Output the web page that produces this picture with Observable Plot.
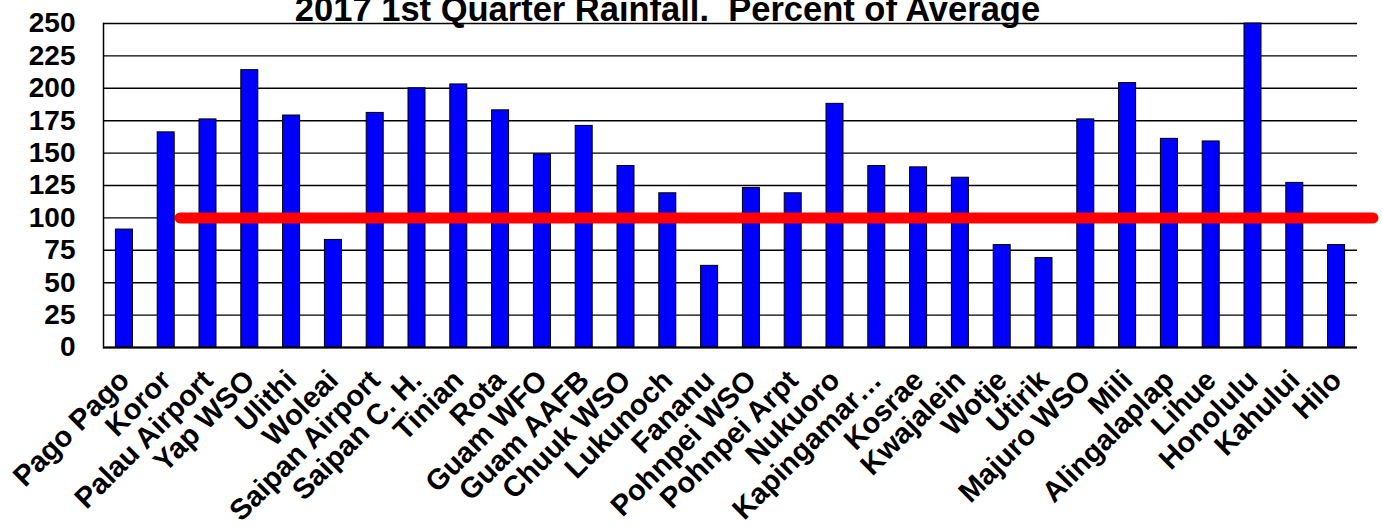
<!DOCTYPE html>
<html><head><meta charset="utf-8">
<script src="https://cdn.jsdelivr.net/npm/d3@7"></script>
<script src="https://cdn.jsdelivr.net/npm/@observablehq/plot@0.6"></script>
<style>
body{margin:0;background:#fff;width:1382px;height:527px;overflow:hidden;position:relative;font-family:"Liberation Sans",Arial,sans-serif;}
#chart{position:absolute;left:0;top:0;}
#title{position:absolute;left:0;width:1335px;text-align:center;top:-8px;font-size:34.5px;line-height:34px;font-weight:bold;white-space:pre;color:#000;}
</style></head><body>
<div id="chart"></div>
<div id="title"></div>
<script>
const titleText = "2017 1st Quarter Rainfall.  Percent of Average";
const stations = ["Pago Pago","Koror","Palau Airport","Yap WSO","Ulithi","Woleai","Saipan Airport","Saipan C. H.","Tinian","Rota","Guam WFO","Guam AAFB","Chuuk WSO","Lukunoch","Fananu","Pohnpei WSO","Pohnpei Arpt","Nukuoro","Kapingamar…","Kosrae","Kwajalein","Wotje","Utirik","Majuro WSO","Mili","Alingalaplap","Lihue","Honolulu","Kahului","Hilo"];
const percents = [91,166,176,214,179,83,181,200,203,183,149,171,140,119,63,123,119,188,140,139,131,79,69,176,204,161,159,250,127,79];
const yTicks = [0,25,50,75,100,125,150,175,200,225,250];
const averageLevel = [100];

const data = stations.map((s, i) => ({station: s, pct: percents[i]}));
document.getElementById("title").textContent = titleText;

const chart = Plot.plot({
  width: 1382, height: 527,
  marginLeft: 103, marginRight: 25, marginTop: 23, marginBottom: 180,
  style: {fontFamily: "'Liberation Sans', Arial, sans-serif", background: "white", color: "black"},
  x: {domain: stations, padding: 0, round: false, label: null},
  y: {domain: [0, 250], label: null},
  marks: [
    Plot.gridY(yTicks, {stroke: "#000", strokeOpacity: 1, strokeWidth: 1.4}),
    Plot.barY(data, {x: "station", y: "pct", fill: "#0000ff", stroke: "#000", strokeWidth: 1, insetLeft: 12.4, insetRight: 12.4}),
    Plot.ruleY(averageLevel, {stroke: "#ff0000", strokeWidth: 11, strokeLinecap: "round", insetLeft: 77, insetRight: -16}),
    Plot.frame({anchor: "left", stroke: "#000", strokeWidth: 1.5}),
    Plot.ruleY([0], {stroke: "#000", strokeWidth: 2}),
    Plot.axisY(yTicks, {tickSize: 0, tickPadding: 28, fontSize: 28, fontWeight: "bold", label: null}),
    Plot.axisX({tickSize: 0, tickPadding: 28, tickRotate: -45, fontSize: 29, fontWeight: "bold", label: null})
  ]
});
document.getElementById("chart").appendChild(chart);
</script>
</body></html>
